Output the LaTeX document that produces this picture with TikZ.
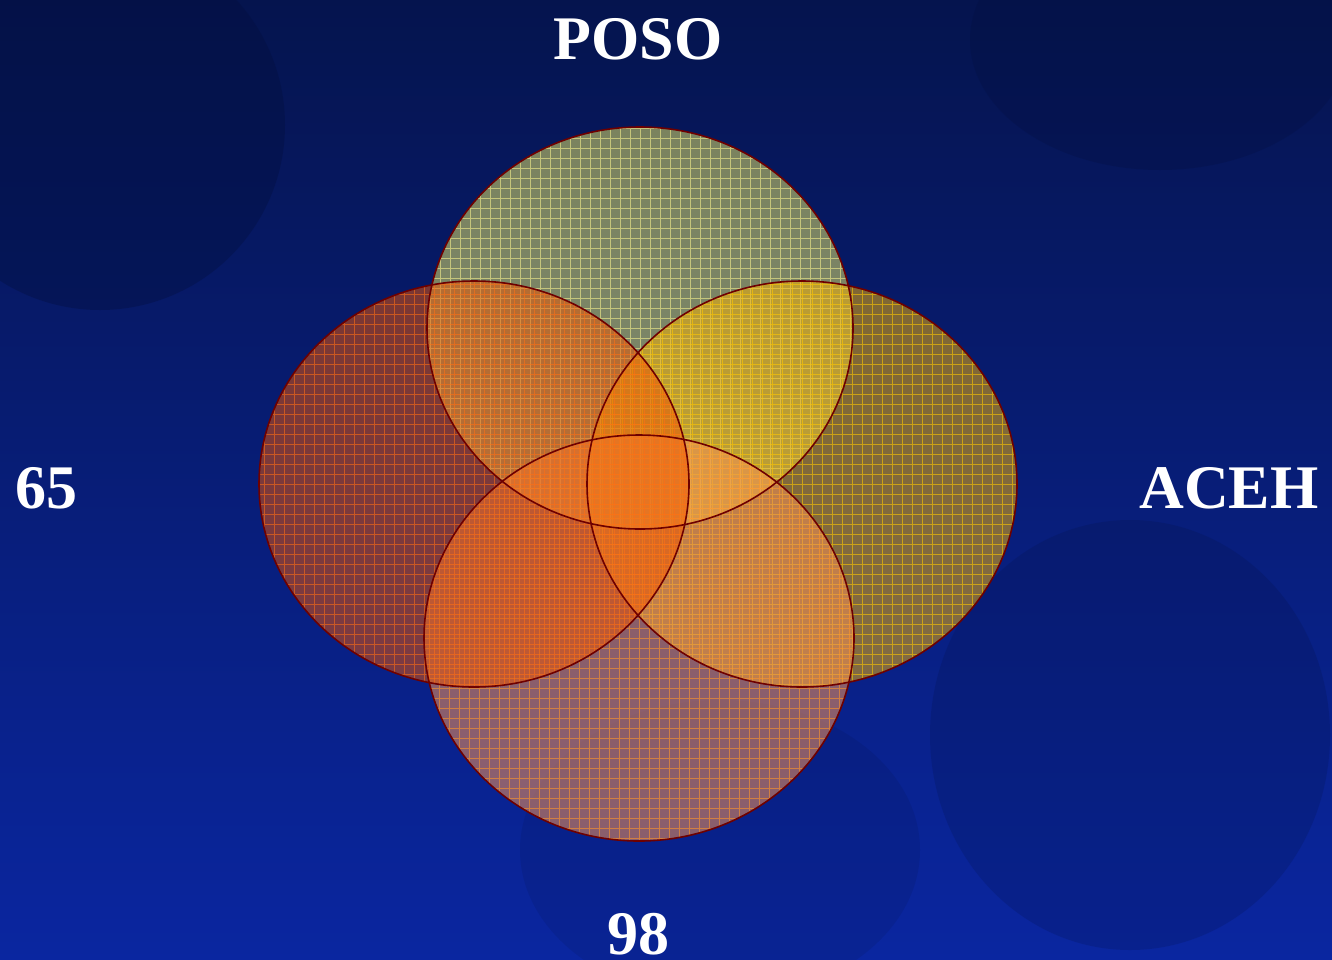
\documentclass[tikz,border=0pt]{standalone}
\usepackage{fontspec}
\setmainfont{Liberation Serif}
\usetikzlibrary{shapes.geometric}
\definecolor{bgtop}{RGB}{5,20,78}
\definecolor{bgbot}{RGB}{10,38,160}
\definecolor{blob}{RGB}{3,14,60}
\definecolor{ctop}{RGB}{240,240,100}
\definecolor{gtop}{RGB}{245,240,140}
\definecolor{cleft}{RGB}{240,85,0}
\definecolor{gleft}{RGB}{255,110,20}
\definecolor{cright}{RGB}{250,180,0}
\definecolor{gright}{RGB}{255,200,0}
\definecolor{cbot}{RGB}{245,145,85}
\definecolor{gbot}{RGB}{255,150,40}
\definecolor{rim}{RGB}{110,0,0}
\tikzset{
  venn/.style args={#1/#2/#3}{ellipse, inner sep=0pt, minimum width=430pt, minimum height=406pt,
    fill=#1, fill opacity=#3,
    path picture={\draw[#2, draw opacity=0.6, line width=0.8pt, step=10pt]
      ([xshift=-5pt,yshift=-5pt]path picture bounding box.south west) grid
      ([xshift=5pt,yshift=5pt]path picture bounding box.north east);}},
  rimline/.style={draw=rim, line width=1.6pt},
  lbl/.style={text=white, font=\fontsize{62}{62}\selectfont\bfseries, anchor=base, inner sep=0pt}
}
\begin{document}
\begin{tikzpicture}[x=1pt,y=-1pt]
\useasboundingbox (0,0) rectangle (1332,959);
% background
\shade[top color=bgtop, bottom color=bgbot] (0,0) rectangle (1332,959);
\fill[blob, opacity=0.35] (100,125) circle [radius=185pt];
\fill[blob, opacity=0.25] (1160,40) ellipse [x radius=190pt, y radius=130pt];
\fill[blob, opacity=0.18] (1130,735) ellipse [x radius=200pt, y radius=215pt];
\fill[blob, opacity=0.12] (720,850) ellipse [x radius=200pt, y radius=150pt];
% ellipses
\node[venn={ctop/gtop/0.5}, minimum width=426pt, minimum height=402pt] (T) at (640,328) {};
\node[venn={cright/gright/0.5}] (R) at (802,484) {};
\node[venn={cbot/gbot/0.55}] (B) at (639,638) {};
\node[venn={cleft/gleft/0.5}] (L) at (474,484) {};
% outlines
\draw[rimline] (B.center) ellipse [x radius=215pt, y radius=203pt];
\draw[rimline] (T.center) ellipse [x radius=213pt, y radius=201pt];
\draw[rimline] (R.center) ellipse [x radius=215pt, y radius=203pt];
\draw[rimline] (L.center) ellipse [x radius=215pt, y radius=203pt];
% labels
\node[lbl] (poso) at (638,59) {POSO};
\node[lbl] (n65) at (47,508) {65};
\node[lbl] (aceh) at (1229,508) {ACEH};
\node[lbl] (n98) at (638,954) {98};
\end{tikzpicture}
\end{document}
